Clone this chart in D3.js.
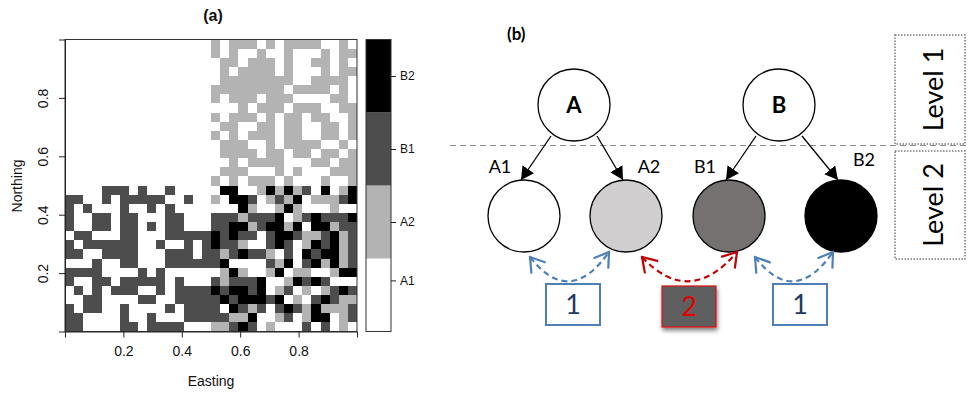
<!DOCTYPE html>
<meta charset="utf-8">
<style>
  body { margin: 0; background: #fff; }
  svg text { font-family: "Liberation Sans", Arial, sans-serif; fill: #111; }
  .diagram text { font-family: Lato, "Open Sans", sans-serif; fill: #000; }
  .axis path, .axis line { stroke: #222; }
</style>

<svg id="chart" width="970" height="398"></svg>

<script src="https://d3js.org/d3.v7.min.js"></script>

<script>
// ---- data: panel (a) ----
// class codes used in the grid: 0 = A1, 1 = A2, 2 = B1, 3 = B2
var classes = ["A1", "A2", "B1", "B2"];
var classColors = ["#ffffff", "#b3b3b3", "#4d4d4d", "#000000"];
var axisTicks = [0.2, 0.4, 0.6, 0.8];
// where the colour-bar labels sit, in class units (band i spans i-0.5 .. i+0.5)
var legendTicks = [1.2, 2, 3, 4];

// rows from north (top) to south, 16 columns each quadrant
var rowsTopRight = [
  "1011101011110010", "1010010010001011", "0110111010011010", "0101111010001011",
  "0111111110011110", "1111111101111010", "1011101110000110", "0001011101110011",
  "1011101011011001", "0110011011001101", "1010111011001101", "0111001011110010",
  "0111101101101101", "0010111100011011", "0111000101000111", "1010111010001001"
];
var rowsBottomLeft = [
  "0000222020020000", "2200202222200200", "2020002002020000", "2002202200022000",
  "2002202202022000", "0220002200022222", "2022222200200202", "2200222200022202",
  "0002002200022222", "2222000020200000", "2002202222202000", "0202022200202222",
  "0022000022002222", "2022002000020222", "2200002002000222", "2200002202222000"
];
var rowsBottomRight = [
  "0330013131203013", "1033201213011123", "0003100131000100", "2221222301232223",
  "2233123313033122", "3232202332112312", "3221002320132312", "2123221020323312",
  "2300002130231312", "0131001301100133", "2122230013232000", "3233230120101232",
  "2323332301023211", "2032120232131112", "2211300120133012", "1123201000202010"
];
var rowsTopLeft = rowsTopRight.map(function() { return "0000000000000000"; });

// ---- data: panel (b) ----
var parents = ["A", "B"];
var children = ["A1", "A2", "B1", "B2"];
var childFills = ["#ffffff", "#d0cece", "#767171", "#000000"];
var exchanges = [
  {from: "A1", to: "A2", label: "1"},
  {from: "A2", to: "B1", label: "2"},
  {from: "B1", to: "B2", label: "1"}
];
var levels = ["Level 1", "Level 2"];

var svg = d3.select("#chart");

// ================= panel (a) =================
var gridRows = rowsTopLeft.map(function(r, i) { return r + rowsTopRight[i]; })
  .concat(rowsBottomLeft.map(function(r, i) { return r + rowsBottomRight[i]; }));
var n = gridRows.length;

var x = d3.scaleLinear().domain([0, 1]).range([65, 357]);
var y = d3.scaleLinear().domain([0, 1]).range([331.5, 39.5]);

var cells = [];
gridRows.forEach(function(row, i) {
  Array.from(row).forEach(function(ch, j) {
    cells.push({row: i, col: j, level: +ch});
  });
});

var pa = svg.append("g");

pa.selectAll("rect.cell")
  .data(cells)
  .enter().append("rect")
  .attr("class", "cell")
  .attr("x", function(d) { return Math.round(x(d.col / n)); })
  .attr("y", function(d) { return Math.round(y(1 - d.row / n)); })
  .attr("width", function(d) { return Math.round(x((d.col + 1) / n)) - Math.round(x(d.col / n)); })
  .attr("height", function(d) { return Math.round(y(1 - (d.row + 1) / n)) - Math.round(y(1 - d.row / n)); })
  .attr("fill", function(d) { return classColors[d.level]; });

pa.append("rect")
  .attr("x", x(0)).attr("y", y(1))
  .attr("width", x(1) - x(0)).attr("height", y(0) - y(1))
  .attr("fill", "none").attr("stroke", "#333").attr("stroke-width", 1);

var xAxis = pa.append("g")
  .attr("class", "axis")
  .attr("transform", "translate(0," + y(0) + ")")
  .call(d3.axisBottom(x).tickValues(axisTicks).tickSize(6).tickPadding(9));
xAxis.selectAll("text").style("font-size", "14px").attr("fill", "#111");

var yAxis = pa.append("g")
  .attr("class", "axis")
  .attr("transform", "translate(" + x(0) + ",0)")
  .call(d3.axisLeft(y).tickValues(axisTicks).tickSize(6));
yAxis.selectAll("text")
  .style("font-size", "14px").attr("fill", "#111")
  .attr("x", 0).attr("dy", 0)
  .attr("text-anchor", "middle")
  .attr("transform", "translate(-17,0) rotate(-90)");

pa.append("text")
  .attr("x", 211).attr("y", 386)
  .attr("text-anchor", "middle").style("font-size", "14px")
  .text("Easting");

pa.append("text")
  .attr("transform", "translate(22,186) rotate(-90)")
  .attr("text-anchor", "middle").style("font-size", "14px")
  .text("Northing");

pa.append("text")
  .attr("x", 213).attr("y", 21)
  .attr("text-anchor", "middle").style("font-size", "16px").style("font-weight", "bold")
  .text("(a)");

// legend colour bar
var legendY = d3.scaleBand().domain(classes.slice().reverse()).range([39.5, 331.5]);
var legendScale = d3.scaleLinear().domain([0.5, 4.5]).range([331.5, 39.5]);
var legend = pa.append("g");
legend.selectAll("rect.band")
  .data(classes)
  .enter().append("rect")
  .attr("class", "band")
  .attr("x", 366).attr("width", 25)
  .attr("y", function(d) { return legendY(d); })
  .attr("height", legendY.bandwidth())
  .attr("fill", function(d, i) { return classColors[i]; });
legend.append("rect")
  .attr("x", 366).attr("y", 39.5).attr("width", 25).attr("height", 292)
  .attr("fill", "none").attr("stroke", "#333");
var legAxis = legend.append("g")
  .attr("class", "axis")
  .attr("transform", "translate(391,0)")
  .call(d3.axisRight(legendScale).tickValues(legendTicks)
    .tickFormat(function(d, i) { return classes[i]; })
    .tickSize(5).tickPadding(4));
legAxis.select(".domain").remove();
legAxis.selectAll("text").style("font-size", "12px").attr("fill", "#111");

// ================= panel (b) =================
var pb = svg.append("g").attr("class", "diagram");
var r = 36, topY = 105, botY = 216;
var parentX = d3.scaleOrdinal().domain(parents).range([574, 779]);
var childX = d3.scaleOrdinal().domain(children).range([524, 626, 729, 841]);

var defs = svg.append("defs");
defs.append("marker")
  .attr("id", "tri").attr("viewBox", "0 0 13 14")
  .attr("refX", 13).attr("refY", 7)
  .attr("markerWidth", 13).attr("markerHeight", 14)
  .attr("markerUnits", "userSpaceOnUse").attr("orient", "auto")
  .append("path").attr("d", "M0,0L13,7L0,14Z").attr("fill", "#000");
[["vBlue", "#4e7fb6"], ["vRed", "#c00000"]].forEach(function(m) {
  defs.append("marker")
    .attr("id", m[0]).attr("viewBox", "0 0 18 22")
    .attr("refX", 16).attr("refY", 11)
    .attr("markerWidth", 18).attr("markerHeight", 22)
    .attr("markerUnits", "userSpaceOnUse").attr("orient", "auto-start-reverse")
    .append("path").attr("d", "M2,2L16,11L2,20")
    .attr("fill", "none").attr("stroke", m[1]).attr("stroke-width", 2.2);
});
var shadow = defs.append("filter").attr("id", "shadow")
  .attr("x", "-20%").attr("y", "-20%").attr("width", "140%").attr("height", "150%");
shadow.append("feDropShadow").attr("dx", 1).attr("dy", 3).attr("stdDeviation", 2)
  .attr("flood-color", "#000").attr("flood-opacity", 0.5);

// level separator
pb.append("line")
  .attr("x1", 450).attr("x2", 970).attr("y1", 145.5).attr("y2", 145.5)
  .attr("stroke", "#8c8c8c").attr("stroke-width", 1.2).attr("stroke-dasharray", "6,4");

// level boxes
var levelBoxes = [[35, 144], [151, 259]];
levels.forEach(function(lv, i) {
  var b = levelBoxes[i];
  pb.append("rect")
    .attr("x", 895).attr("y", b[0]).attr("width", 70).attr("height", b[1] - b[0])
    .attr("fill", "none").attr("stroke", "#7a7a7a").attr("stroke-width", 1.5)
    .attr("stroke-dasharray", "1.5,1.5");
  pb.append("text")
    .attr("transform", "translate(943," + ((b[0] + b[1]) / 2) + ") rotate(-90)")
    .attr("text-anchor", "middle").style("font-size", "27px")
    .text(lv);
});

// parent -> child arrows
children.forEach(function(c, i) {
  var p = c.charAt(0);
  var side = i % 2 === 0 ? -1 : 1;
  pb.append("line")
    .attr("x1", parentX(p) + side * 23).attr("y1", topY + 31)
    .attr("x2", childX(c) - 3).attr("y2", botY - 36)
    .attr("stroke", "#000").attr("stroke-width", 1.3)
    .attr("marker-end", "url(#tri)");
});

// parent nodes
pb.selectAll("circle.parent")
  .data(parents)
  .enter().append("circle")
  .attr("class", "parent")
  .attr("cx", function(d) { return parentX(d); }).attr("cy", topY).attr("r", r)
  .attr("fill", "#fff").attr("stroke", "#000").attr("stroke-width", 1.3);
pb.selectAll("text.parent")
  .data(parents)
  .enter().append("text")
  .attr("class", "parent")
  .attr("x", function(d) { return parentX(d); }).attr("y", topY + 8)
  .attr("text-anchor", "middle").style("font-size", "22px").style("font-weight", "bold")
  .text(function(d) { return d; });

// child nodes
pb.selectAll("circle.child")
  .data(children)
  .enter().append("circle")
  .attr("class", "child")
  .attr("cx", function(d) { return childX(d); }).attr("cy", botY).attr("r", r)
  .attr("fill", function(d, i) { return childFills[i]; })
  .attr("stroke", "#000").attr("stroke-width", 1.3);
pb.selectAll("text.child")
  .data(children)
  .enter().append("text")
  .attr("class", "child")
  .attr("x", function(d, i) { return childX(d) + (i % 2 === 0 ? -24 : 23); })
  .attr("y", function(d, i) { return i === 3 ? botY - 50 : botY - 43; })
  .attr("text-anchor", "middle").style("font-size", "18px")
  .text(function(d) { return d; });

// exchange links with boxes
var bridgeEnds = [[6, -17], [16, 8], [26, -8]];
var boxCenters = [573, 689, 800];
exchanges.forEach(function(e, i) {
  var red = e.label === "2";
  var col = red ? "#c00000" : "#4e7fb6";
  var x1 = childX(e.from) + bridgeEnds[i][0], y1 = botY + 41;
  var x2 = childX(e.to) + bridgeEnds[i][1], y2 = botY + 36;
  var mx = (x1 + x2) / 2;
  pb.append("path")
    .attr("d", "M" + x1 + "," + y1 + "Q" + mx + "," + (botY + 92) + " " + x2 + "," + y2)
    .attr("fill", "none").attr("stroke", col).attr("stroke-width", 2.2)
    .attr("stroke-dasharray", "6,4")
    .attr("marker-start", red ? "url(#vRed)" : "url(#vBlue)")
    .attr("marker-end", red ? "url(#vRed)" : "url(#vBlue)");

  var bx = boxCenters[i] - 27, by = red ? 286 : 284;
  pb.append("rect")
    .attr("x", bx).attr("y", by).attr("width", 54).attr("height", 41)
    .attr("fill", red ? "#5f5f5f" : "#fff")
    .attr("stroke", red ? "#e01010" : "#4e7fb6").attr("stroke-width", red ? 1.2 : 2)
    .attr("filter", red ? "url(#shadow)" : null);
  pb.append("text")
    .attr("x", boxCenters[i]).attr("y", by + 30)
    .attr("text-anchor", "middle").style("font-size", "27px")
    .style("fill", red ? "#e00000" : "#1f3864")
    .text(e.label);
});

pb.append("text")
  .attr("x", 507).attr("y", 40)
  .style("font-size", "17px").style("font-weight", "bold")
  .text("(b)");
</script>
